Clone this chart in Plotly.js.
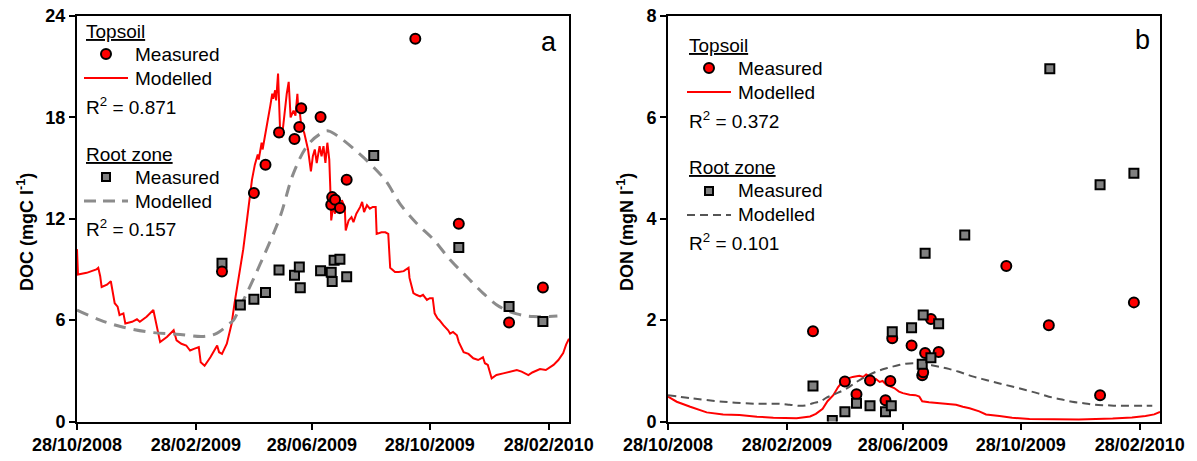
<!DOCTYPE html>
<html>
<head>
<meta charset="utf-8">
<script src="https://cdn.plot.ly/plotly-3.0.1.min.js"></script>
<style>html,body{margin:0;padding:0;background:#fff;}#chart{width:1197px;height:461px;}</style>
</head>
<body>
<div id="chart"></div>
<script>
// x values: days since 28/10/2008
const tickDays = [0, 123, 243, 365, 488];
const tickLabels = ["28/10/2008", "28/02/2009", "28/06/2009", "28/10/2009", "28/02/2010"];
const docTicks = [0, 6, 12, 18, 24];
const donTicks = [0, 2, 4, 6, 8];

// Panel a: DOC (mgC l-1)
const docTopMeasDays = [150,183,195,209,225,230,232,252,263,264,267,272,279,350,395,447,482];
const docTopMeas = [8.88,13.52,15.2,17.1,16.72,17.43,18.54,18.02,12.83,13.28,13.13,12.63,14.31,22.65,11.70,5.86,7.93];
const docRootMeasDays = [150,169,183,195,209,225,230,231,252,263,264,266,272,279,307,395,447,482];
const docRootMeas = [9.37,6.89,7.24,7.63,8.96,8.66,9.14,7.91,8.92,8.84,8.29,9.55,9.61,8.56,15.75,10.30,6.80,5.92];

const docTopModDays = [0,1,10,20,22,24,25.5,31,35,37,39,42,44,48,50,57,62,65,72,79,81,86,93,100,103,108,113,117,121,126,128,132,138,145,147,150,155,160,163,168,172,176,179,181,184,187,188,191,192,194,198,200,202,203,205,206,208,210,212,215,217,219,221,224,226,228,229,230,232,235,237,239,242,244,246,248,251,253,255,257,259,261,262,263,265,267,268,270,272,274,277,278,281,284,286,289,293,295,297,300,303,306,309,310,315,319,322,324,329,333,338,343,344,348,351,355,358,362,365,368,370,373,375,379,384,386,389,393,395,400,405,410,415,420,422,425,429,434,441,448,455,460,467,471,479,485,493,498,503,506,509];
const docTopMod = [10.2,8.7,8.8,9.0,9.1,8.6,7.96,8.1,8.3,7.6,7.0,6.8,6.3,6.4,5.8,5.9,6.05,5.9,6.2,6.6,6.0,4.7,5.0,5.4,4.8,4.6,4.5,4.2,4.3,4.4,3.5,3.3,3.8,4.5,4.1,4.0,4.6,5.8,7.0,8.8,10.2,12.0,13.6,14.3,15.2,15.8,15.5,16.5,16.1,16.7,17.9,18.7,19.4,19.1,19.6,19.0,20.6,17.4,16.8,18.4,19.4,20.1,18.0,18.4,18.1,19.4,18.4,18.6,17.5,17.1,16.5,16.1,14.8,15.7,16.1,15.3,16.3,15.7,16.3,15.3,16.5,15.5,13.9,11.9,12.7,12.3,13.1,12.5,12.3,13.1,12.7,11.3,11.9,12.1,11.8,12.3,12.7,13.0,12.4,12.8,12.6,12.7,12.7,11.1,11.2,11.2,11.1,9.1,8.85,8.85,8.9,9.1,8.5,7.6,7.5,7.4,7.5,7.2,7.3,7.3,6.4,6.1,6.0,5.7,5.4,5.2,5.3,5.1,4.7,4.1,4.0,3.74,3.64,3.8,3.45,3.35,2.55,2.75,2.85,2.95,3.05,2.95,2.75,2.9,3.1,3.05,3.35,3.64,4.05,4.55,4.9];
const docRootModDays = [0,24,48,76,103,131,145,158,162,169,179,196,210,224,238,251,260,272,289,306,320,334,351,369,386,403,420,437,455,472,497];
const docRootMod = [6.6,6.0,5.58,5.28,5.17,5.03,5.23,5.8,6.0,6.8,8.0,10.16,12.1,14.7,16.3,17.0,17.2,16.8,16.0,15.1,14.2,12.9,11.75,10.76,9.57,8.58,7.6,6.8,6.37,6.21,6.25];

// Panel b: DON (mgN l-1)
const donTopMeasDays = [150,183,195,209,225,230,232,252,263,264,266,272,280,350,394,447,482];
const donTopMeas = [1.78,0.79,0.54,0.81,0.42,0.80,1.64,1.50,0.91,0.97,1.35,2.02,1.37,3.07,1.90,0.52,2.35];
const donRootMeasDays = [150,170,183,195,209,225,231,232,252,263,264,266,272,280,307,395,447,482];
const donRootMeas = [0.70,0.02,0.19,0.36,0.31,0.19,0.31,1.77,1.85,1.13,2.10,3.32,1.26,1.93,3.68,6.96,4.67,4.90];

const donTopModDays = [0,9,23,40,57,74,92,109,133,147,153,160,165,171,176,181,185,191,198,202,205,208,212,215,219,222,226,230,234,239,243,250,256,260,263,270,277,288,298,305,312,322,329,343,356,374,391,425,460,480,494,503,509];
const donTopMod = [0.49,0.39,0.29,0.18,0.14,0.13,0.095,0.075,0.063,0.10,0.15,0.25,0.40,0.52,0.68,0.80,0.84,0.88,0.90,0.88,0.93,0.90,0.80,0.84,0.78,0.80,0.72,0.69,0.66,0.59,0.56,0.53,0.52,0.49,0.40,0.38,0.37,0.34,0.33,0.29,0.26,0.20,0.14,0.11,0.075,0.05,0.043,0.04,0.06,0.08,0.11,0.14,0.19];
const donRootModDays = [0,23,57,92,116,126,136,143,150,158,164,170,176,184,195,205,215,226,236,246,257,267,278,288,301,315,329,343,356,370,382,394,406,418,430,442,454,466,483,501];
const donRootMod = [0.52,0.46,0.39,0.35,0.35,0.33,0.31,0.32,0.36,0.40,0.47,0.52,0.57,0.64,0.78,0.89,0.98,1.05,1.10,1.14,1.15,1.13,1.09,1.05,0.98,0.89,0.82,0.75,0.69,0.62,0.56,0.49,0.44,0.39,0.36,0.33,0.32,0.31,0.31,0.31];

const FONT = "Liberation Sans, Arial, sans-serif";
const RED = "#ff0000";
const GREY = "#808080";

const traces = [
  {x: docTopModDays, y: docTopMod, xaxis: "x", yaxis: "y", mode: "lines", line: {color: RED, width: 2}},
  {x: docRootModDays, y: docRootMod, xaxis: "x", yaxis: "y", mode: "lines", line: {color: "#8c8c8c", width: 3, dash: "12px,8px", shape: "spline"}},
  {x: docRootMeasDays, y: docRootMeas, xaxis: "x", yaxis: "y", mode: "markers", marker: {symbol: "square", size: 9, color: GREY, line: {color: "#000", width: 2}}},
  {x: docTopMeasDays, y: docTopMeas, xaxis: "x", yaxis: "y", mode: "markers", marker: {symbol: "circle", size: 10, color: RED, line: {color: "#000", width: 2}}},
  {x: donTopModDays, y: donTopMod, xaxis: "x2", yaxis: "y2", mode: "lines", line: {color: RED, width: 2}},
  {x: donRootModDays, y: donRootMod, xaxis: "x2", yaxis: "y2", mode: "lines", line: {color: "#555555", width: 2, dash: "8px,5px", shape: "spline"}},
  {x: donTopMeasDays, y: donTopMeas, xaxis: "x2", yaxis: "y2", mode: "markers", marker: {symbol: "circle", size: 10, color: RED, line: {color: "#000", width: 2}}},
  {x: donRootMeasDays, y: donRootMeas, xaxis: "x2", yaxis: "y2", mode: "markers", marker: {symbol: "square", size: 9, color: GREY, line: {color: "#000", width: 2}}}
];

const W = 1197, H = 461;
const px = v => v / W;
const py = v => 1 - v / H;

const axisCommon = {
  showgrid: false, zeroline: false, showline: true, linecolor: "#000", linewidth: 2,
  mirror: true, ticks: "outside", ticklen: 6, tickwidth: 2, tickcolor: "#000",
  tickfont: {family: FONT, size: 18, color: "#000", weight: "bold"}
};

function legendBlock(x0, yTop, r2a, r2b, rootDash, rootColor, rootWidth) {
  const ann = [];
  const shp = [];
  const t = (text, x, y, extra) => ann.push(Object.assign({
    xref: "paper", yref: "paper", x: px(x), y: py(y), text: text, showarrow: false,
    xanchor: "left", yanchor: "middle", font: {family: FONT, size: 19, color: "#000"}
  }, extra || {}));
  t("<u>Topsoil</u>", x0, yTop);
  t("Measured", x0 + 49, yTop + 23);
  t("Modelled", x0 + 49, yTop + 47);
  t(r2a, x0, yTop + 75);
  t("<u>Root zone</u>", x0, yTop + 123);
  t("Measured", x0 + 49, yTop + 146);
  t("Modelled", x0 + 49, yTop + 170);
  t(r2b, x0, yTop + 197);
  shp.push({type: "circle", xref: "paper", yref: "paper", x0: px(x0 + 17), x1: px(x0 + 27), y0: py(yTop + 28), y1: py(yTop + 18), fillcolor: RED, line: {color: "#000", width: 2}});
  shp.push({type: "line", xref: "paper", yref: "paper", x0: px(x0), x1: px(x0 + 44), y0: py(yTop + 47), y1: py(yTop + 47), line: {color: RED, width: 2}});
  shp.push({type: "rect", xref: "paper", yref: "paper", x0: px(x0 + 18), x1: px(x0 + 26), y0: py(yTop + 150), y1: py(yTop + 142), fillcolor: GREY, line: {color: "#000", width: 2}});
  shp.push({type: "line", xref: "paper", yref: "paper", x0: px(x0), x1: px(x0 + 44), y0: py(yTop + 170), y1: py(yTop + 170), line: {color: rootColor, width: rootWidth, dash: rootDash}});
  return {ann, shp};
}

const legA = legendBlock(84, 31, "R<sup>2</sup> = 0.871", "R<sup>2</sup> = 0.157", "12px,7px", "#8c8c8c", 3);
const legB = legendBlock(687, 45, "R<sup>2</sup> = 0.372", "R<sup>2</sup> = 0.101", "8px,5px", "#555555", 2);

const annotations = [].concat(legA.ann, legB.ann, [
  {xref: "paper", yref: "paper", x: px(549), y: py(42), text: "a", showarrow: false, xanchor: "center", yanchor: "middle", font: {family: FONT, size: 27, color: "#000"}},
  {xref: "paper", yref: "paper", x: px(1142), y: py(40), text: "b", showarrow: false, xanchor: "center", yanchor: "middle", font: {family: FONT, size: 27, color: "#000"}},
  {xref: "paper", yref: "paper", x: px(25), y: py(232), text: "DOC (mgC l<sup>-1</sup>)", textangle: -90, showarrow: false, xanchor: "center", yanchor: "middle", font: {family: FONT, size: 18, color: "#000", weight: "bold"}},
  {xref: "paper", yref: "paper", x: px(625), y: py(232), text: "DON (mgN l<sup>-1</sup>)", textangle: -90, showarrow: false, xanchor: "center", yanchor: "middle", font: {family: FONT, size: 18, color: "#000", weight: "bold"}}
]);

const layout = {
  width: W, height: H,
  margin: {l: 0, r: 0, t: 0, b: 0},
  paper_bgcolor: "#fff", plot_bgcolor: "#fff",
  showlegend: false,
  font: {family: FONT, color: "#000"},
  xaxis: Object.assign({}, axisCommon, {domain: [px(77), px(569)], range: [0, 509], tickvals: tickDays, ticktext: tickLabels, anchor: "y"}),
  yaxis: Object.assign({}, axisCommon, {domain: [py(421.5), py(16)], range: [0, 24], tickvals: docTicks, ticktext: docTicks.map(String), anchor: "x"}),
  xaxis2: Object.assign({}, axisCommon, {domain: [px(668), px(1160)], range: [0, 509], tickvals: tickDays, ticktext: tickLabels, anchor: "y2"}),
  yaxis2: Object.assign({}, axisCommon, {domain: [py(421.5), py(16)], range: [0, 8], tickvals: donTicks, ticktext: donTicks.map(String), anchor: "x2"}),
  annotations: annotations,
  shapes: [].concat(legA.shp, legB.shp)
};

Plotly.newPlot("chart", traces, layout, {staticPlot: true, displayModeBar: false});
</script>
</body>
</html>
